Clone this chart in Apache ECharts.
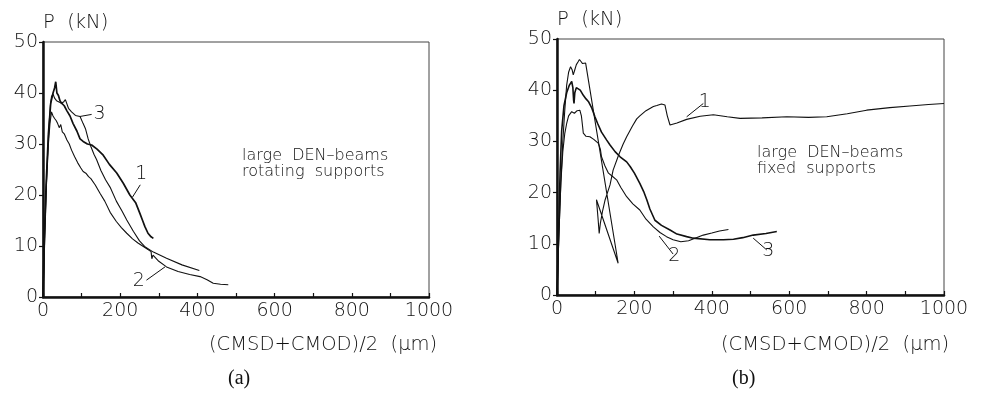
<!DOCTYPE html>
<html>
<head>
<meta charset="utf-8">
<script src="https://cdn.jsdelivr.net/npm/echarts@6/dist/echarts.min.js"></script>
<style>
  html, body { margin: 0; padding: 0; background: #fff; }
  #chart { width: 984px; height: 393px; }
</style>
</head>
<body>
<div id="chart"></div>
<script>
// Load P versus (CMSD+CMOD)/2 for large DEN-beams, [displacement um, load kN]

// (a) rotating supports
const rot1 = [[0,0],[3,10],[8,22],[14,32],[20,38],[26,40],[30,41],[33,42.2],[36,40],[40,39.5],[44,38.5],[48,38],[55,37.5],[62,36.5],[70,35.5],[78,34],[88,32.5],[96,31],[104,30.5],[115,30],[126,29.8],[140,29],[156,27.8],[172,26],[191,24.3],[208,22.3],[225,20],[240,18.5],[251,16.4],[258,15],[264,13.8],[272,12.5],[280,11.8],[286,11.5]];
const rot2 = [[0,0],[4,10],[9,22],[14,30],[18,34],[22,36.3],[26,35.5],[30,35],[34,34.6],[38,34],[42,33.2],[46,33.8],[50,32.4],[55,32],[62,30.8],[68,30],[74,28.8],[82,27.5],[90,26.3],[98,25.3],[104,24.6],[112,24.2],[118,23.6],[124,23.2],[135,22],[148,20.3],[160,18.8],[174,16.6],[190,14.8],[203,13.6],[217,12.5],[232,11.4],[246,10.6],[260,9.9],[272,9.3],[280,8.9],[282,7.5],[285,8.2],[300,7],[320,5.9],[350,5],[380,4.4],[407,4],[425,3.4],[441,2.7],[460,2.5],[480,2.4]];
const rot3 = [[0,0],[4,12],[10,25],[15,33],[19,37.5],[22,39.3],[26,39.8],[30,39],[35,38.5],[40,38.2],[48,38],[54,38.3],[58,38.7],[62,38.5],[66,37],[74,36.3],[84,35.6],[96,35.4],[104,34],[110,33],[117,31],[124,29.5],[132,28],[139,26.9],[150,24.8],[162,23],[174,21.5],[190,18.8],[205,16.8],[217,15.1],[234,12.9],[250,11],[265,9.8],[286,8.8],[320,7.6],[360,6.3],[405,5.2]];

// (b) fixed supports
const fix1 = [[0,0],[5,12],[10,22],[15,30],[20,36],[25,41],[30,43.5],[35,44.6],[39,44],[42,43],[46,44],[50,45],[55,45.6],[58,46],[62,45.6],[66,45.2],[70,45],[74,45.3],[78,45],[158,6.2],[102,18.6],[106,15],[109,12],[112,14],[118,16.5],[124,18.5],[137,21.5],[145,24.4],[160,27.5],[171,29.5],[180,30.9],[195,33],[206,34.4],[214,35],[230,36],[249,36.8],[258,37],[270,37.3],[279,37.1],[285,35],[292,33.2],[310,33.6],[335,34.3],[370,34.9],[404,35.2],[440,34.8],[473,34.5],[530,34.6],[594,34.8],[650,34.7],[697,34.8],[750,35.4],[800,36.1],[860,36.6],[912,36.9],[960,37.2],[1000,37.4]];
const fix2 = [[0,0],[5,12],[10,22],[15,28],[20,31.5],[25,33.5],[30,35],[38,35.8],[45,35.5],[52,36],[59,36.1],[63,35],[66,33],[68,31.6],[75,31],[85,30.9],[95,30.4],[107,29.6],[112,28.5],[115,27],[124,25.2],[133,23.8],[143,23.2],[154,22.5],[165,21],[180,19.2],[196,17.8],[214,16.6],[230,14.8],[249,13.3],[266,12.2],[283,11.4],[300,10.8],[320,10.4],[340,10.6],[360,11.2],[378,11.7],[400,12.1],[420,12.5],[443,12.8]];
const fix3 = [[0,0],[4,12],[8,24],[12,32],[18,37],[25,39.5],[32,41],[38,41.7],[41,40.5],[43,38],[44,37.4],[46,39.5],[50,40.5],[55,40.7],[60,40],[68,39],[75,38.3],[81,37.8],[90,36.5],[98,34.8],[105,33.5],[115,31.8],[128,30.3],[137,29.3],[150,28],[163,27],[180,26],[189,25.1],[200,23.8],[214,21.8],[224,20.2],[232,18.6],[240,16.8],[253,14.6],[270,13.6],[292,12.7],[310,11.9],[335,11.4],[352,11.1],[395,10.8],[430,10.8],[456,10.9],[480,11.2],[507,11.7],[540,12],[568,12.4]];

// Curve number leaders: [from point on curve, to point where the number sits]
const leadRot = { '1': [[232,19.6],[252,22]], '2': [[316,5.9],[268,3.3]], '3': [[96,35.4],[126,35.8]] };
const leadFix = { '1': [[335,34.8],[378,37.4]], '2': [[264,11.5],[300,8.0]], '3': [[507,11.1],[542,8.8]] };

// Axis ticks
const xTicks = { min: 0, max: 1000, step: 100, labelStep: 200 };
const yTicks = { min: 0, max: 50, step: 10 };

const INK = '#111';
const FONT = 'DejaVu Sans';

const chart = echarts.init(document.getElementById('chart'), null, { renderer: 'canvas' });

function xAxisFor(gi) {
  return {
    type: 'value', gridIndex: gi, min: xTicks.min, max: xTicks.max, interval: xTicks.step,
    axisLine: { show: true, onZero: false, lineStyle: { color: INK, width: 2.5 } },
    axisTick: { show: true, inside: true, length: 4, lineStyle: { color: INK, width: 1.2 } },
    axisLabel: {
      color: INK, fontFamily: FONT, fontSize: 19, fontWeight: 300, margin: 5,
      formatter: v => (v % xTicks.labelStep === 0 ? String(v) : '')
    },
    splitLine: { show: false }
  };
}
function yAxisFor(gi) {
  return {
    type: 'value', gridIndex: gi, min: yTicks.min, max: yTicks.max, interval: yTicks.step,
    axisLine: { show: true, onZero: false, lineStyle: { color: INK, width: 2.5 } },
    axisTick: { show: true, inside: false, length: 4, lineStyle: { color: INK, width: 1.2 } },
    axisLabel: { color: INK, fontFamily: FONT, fontSize: 19, fontWeight: 300, margin: 5 },
    splitLine: { show: false }
  };
}

function leaderLines(leads) {
  return {
    silent: true, symbol: 'none', animation: false,
    lineStyle: { color: INK, width: 1, type: 'solid' },
    label: { show: true, position: 'end', distance: 2, color: INK, fontFamily: FONT, fontSize: 19, fontWeight: 300,
             formatter: p => p.name },
    data: Object.keys(leads).map(k => [
      { name: k, coord: leads[k][0] },
      { coord: leads[k][1] }
    ])
  };
}

function curve(data, gi, width, mark) {
  const s = {
    type: 'line', xAxisIndex: gi, yAxisIndex: gi, data: data,
    showSymbol: false, symbol: 'none', smooth: false, animation: false,
    lineStyle: { color: INK, width: width }
  };
  if (mark) s.markLine = mark;
  return s;
}

function txt(x, y, text, opts) {
  return {
    type: 'text', left: x, top: y,
    style: Object.assign({ text: text, fill: INK, font: '300 19.5px "DejaVu Sans"' }, opts || {})
  };
}

chart.setOption({
  backgroundColor: '#fff',
  animation: false,
  grid: [
    { left: 43, top: 42, width: 386, height: 255, show: true, borderColor: '#444', borderWidth: 1 },
    { left: 557, top: 39, width: 387, height: 256, show: true, borderColor: '#444', borderWidth: 1 }
  ],
  xAxis: [xAxisFor(0), xAxisFor(1)],
  yAxis: [yAxisFor(0), yAxisFor(1)],
  series: [
    curve(rot1, 0, 1.7, leaderLines(leadRot)),
    curve(rot2, 0, 1.1),
    curve(rot3, 0, 1.1),
    curve(fix1, 1, 1.1, leaderLines(leadFix)),
    curve(fix2, 1, 1.1),
    curve(fix3, 1, 1.6)
  ],
  graphic: [
    txt(43, 13, 'P  (kN)'),
    txt(557, 10, 'P  (kN)'),
    txt(209, 335, '(CMSD+CMOD)/2  (\u03bcm)'),
    txt(721, 335, '(CMSD+CMOD)/2  (\u03bcm)'),
    txt(242, 148, 'large  DEN\u2013beams\nrotating  supports', { font: '300 16px "DejaVu Sans"', lineHeight: 16 }),
    txt(757, 145, 'large  DEN\u2013beams\nfixed  supports', { font: '300 16px "DejaVu Sans"', lineHeight: 16 }),
    txt(228, 369, '(a)', { font: '20px "Liberation Serif"' }),
    txt(732, 369, '(b)', { font: '20px "Liberation Serif"' })
  ]
});
</script>
</body>
</html>
